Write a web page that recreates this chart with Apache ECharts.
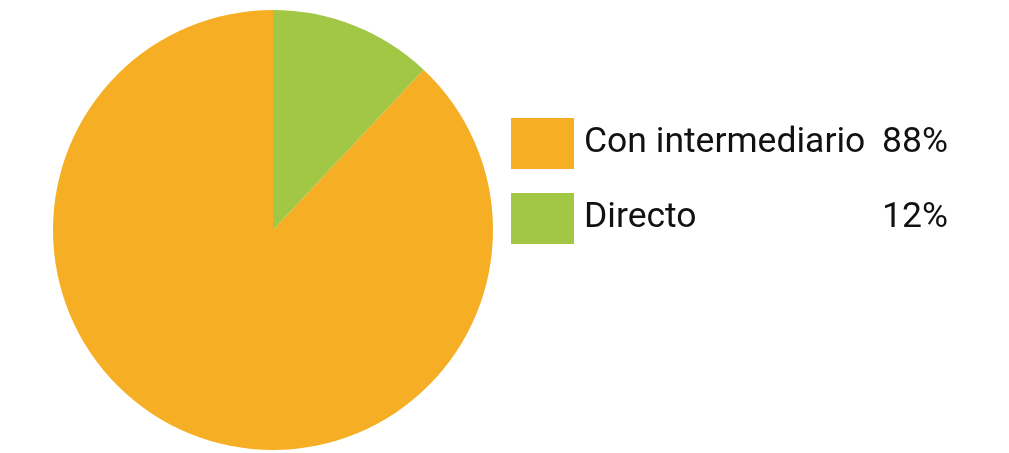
<!DOCTYPE html>
<html>
<head>
<meta charset="utf-8">
<script src="https://cdn.jsdelivr.net/npm/echarts@6/dist/echarts.min.js"></script>
<style>
html, body { margin: 0; padding: 0; background: #fff; }
#chart { width: 1009px; height: 453px; }
</style>
</head>
<body>
<div id="chart"></div>
<script>
// datos del gráfico
var categories = ['Con intermediario', 'Directo'];
var values = [88, 12];
var colors = ['#F6AF24', '#A2C745'];

var pieData = [];
categories.forEach(function (name, i) {
    pieData.push({ name: name, value: values[i], itemStyle: { color: colors[i] } });
});

var chart = echarts.init(document.getElementById('chart'));
var option = {
    backgroundColor: '#fff',
    animation: false,
    legend: {
        orient: 'vertical',
        left: 511,
        top: 118,
        padding: 0,
        itemWidth: 63,
        itemHeight: 51,
        itemGap: 24,
        icon: 'rect',
        selectedMode: false,
        data: categories,
        formatter: function (name) {
            var idx = categories.indexOf(name);
            return '{n|' + name + '}{p|' + values[idx] + '%}';
        },
        textStyle: {
            padding: [0, 0, 0, 5],
            rich: {
                n: { fontFamily: 'Roboto', fontSize: 35.5, color: '#111', width: 294 },
                p: { fontFamily: 'Roboto', fontSize: 35.5, color: '#111', width: 70, align: 'right' }
            }
        }
    },
    series: [{
        type: 'pie',
        center: [273, 230],
        radius: [0, 220],
        startAngle: 90,
        clockwise: false,
        label: { show: false },
        labelLine: { show: false },
        emphasis: { disabled: true },
        itemStyle: { borderWidth: 0 },
        data: pieData
    }]
};
chart.setOption(option);
</script>
</body>
</html>
